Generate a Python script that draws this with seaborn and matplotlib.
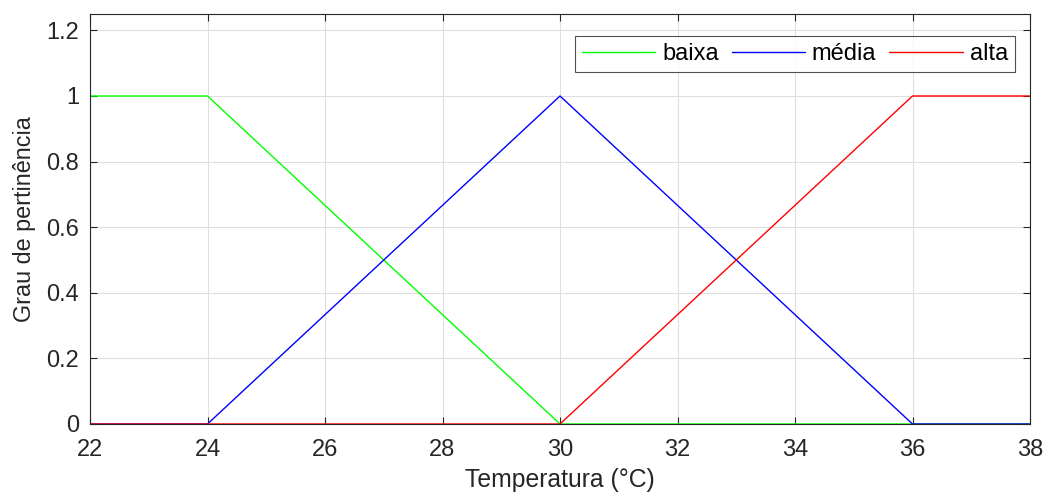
import matplotlib
matplotlib.use("Agg")
import matplotlib.pyplot as plt
import seaborn as sns
import pandas as pd

# data
x_baixa = [22, 24, 30, 38]
y_baixa = [1, 1, 0, 0]
x_media = [22, 24, 30, 36, 38]
y_media = [0, 0, 1, 0, 0]
x_alta = [22, 30, 36, 38]
y_alta = [0, 0, 1, 1]
xticks = [22, 24, 26, 28, 30, 32, 34, 36, 38]
yticks = [0, 0.2, 0.4, 0.6, 0.8, 1, 1.2]
ytick_labels = ["0", "0.2", "0.4", "0.6", "0.8", "1", "1.2"]

sns.set_style("white")
plt.rcParams['font.family'] = ['Liberation Sans', 'DejaVu Sans']
txt = "#262626"

fig = plt.figure(figsize=(10.45, 4.97), dpi=100)
ax = fig.add_axes([90/1045, 1 - 424/497, (1030-90)/1045, (424-14)/497])

df = pd.concat([
    pd.DataFrame({"x": x_baixa, "y": y_baixa, "s": "baixa"}),
    pd.DataFrame({"x": x_media, "y": y_media, "s": "média"}),
    pd.DataFrame({"x": x_alta, "y": y_alta, "s": "alta"}),
])
palette = {"baixa": "#00ff00", "média": "#0000ff", "alta": "#ff0000"}
sns.lineplot(data=df, x="x", y="y", hue="s", palette=palette, ax=ax,
             linewidth=1.0, sort=False, estimator=None)

ax.set_xlim(22, 38)
ax.set_ylim(0, 1.25)
ax.set_xticks(xticks)
ax.set_xticklabels([str(t) for t in xticks])
ax.set_yticks(yticks)
ax.set_yticklabels(ytick_labels)
ax.grid(True, color="#dfdfdf", linewidth=0.8)
ax.set_axisbelow(True)
for s in ax.spines.values():
    s.set_visible(True)
    s.set_color(txt)
    s.set_linewidth(0.8)
ax.tick_params(direction="in", length=5, color=txt, labelcolor=txt,
               labelsize=17, top=True, right=True, bottom=True, left=True,
               labeltop=False, labelright=False)
ax.tick_params(axis="x", pad=11)
ax.tick_params(axis="y", pad=8)
ax.set_xlabel("Temperatura (°C)", fontsize=17.8, color=txt, labelpad=5)
ax.set_ylabel("Grau de pertinência", fontsize=16.8, color=txt, labelpad=7)

leg = ax.legend(loc="upper right", ncol=3, fontsize=17, frameon=True,
                fancybox=False, edgecolor=txt, handlelength=3.1,
                bbox_to_anchor=(1 - 15/940, 1 - 22/410), borderaxespad=0,
                columnspacing=0.55, handletextpad=0.3, borderpad=0.3)
leg.get_frame().set_linewidth(0.8)
for t in leg.get_texts():
    t.set_color("black")

fig.savefig("out.png", dpi=100, facecolor="white")
